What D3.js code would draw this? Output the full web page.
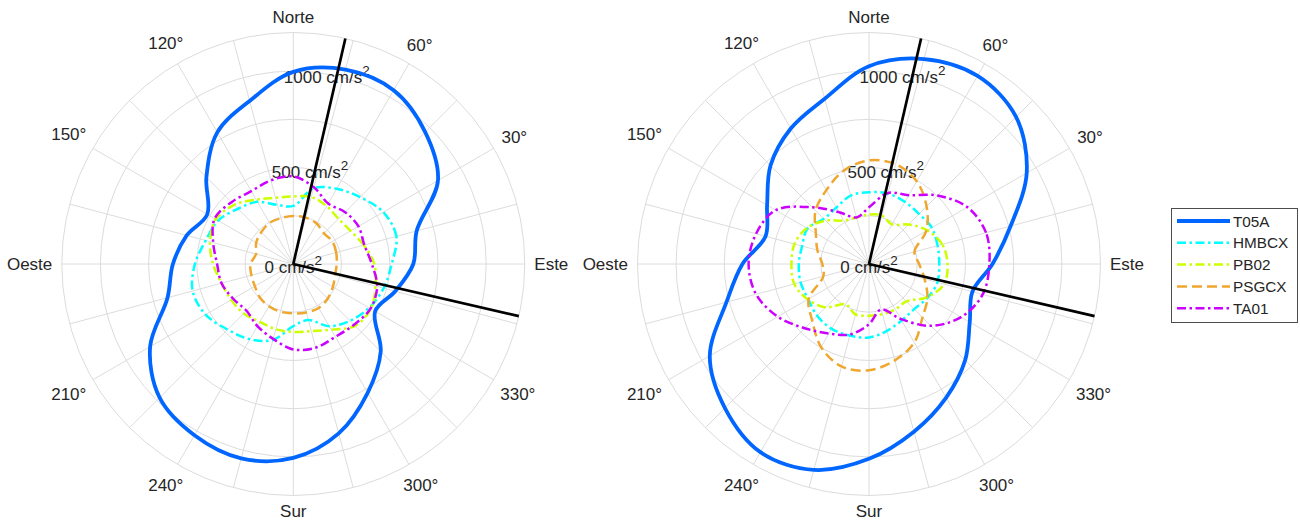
<!DOCTYPE html>
<html><head><meta charset="utf-8">
<script src="https://cdn.jsdelivr.net/npm/d3@7"></script>
<style>
body{margin:0;background:#fff;}
svg{display:block;font-family:"Liberation Sans",Arial,Helvetica,sans-serif;}
</style>
</head><body>
<svg id="c" width="1300" height="525"></svg>
<script>
// ---- data ----
const angles = [0,15,30,45,60,75,90,105,120,135,150,165,180,195,210,225,240,255,270,285,300,315,330,345];
const thetaLabelAngles = [0,30,60,90,120,150,180,210,240,270,300,330];
const thetaLabels = ["Este","30°","60°","Norte","120°","150°","Oeste","210°","240°","Sur","300°","330°"];
const rTicks = [250,500,750,1000];
const rLabelTicks = [0,500,1000];
const rMax = 1200;
const refLineAngles = [77,347];
const seriesNames = ["T05A","HMBCX","PB02","PSGCX","TA01"];

const leftT05A  = [622,662,866,967,1040,1043,996,875,788,637,515,572,624,675,857,980,1025,1043,1005,909,771,641,490,547];
const leftHMBCX = [510,553,538,490,450,407,301,317,372,405,450,470,510,540,525,481,450,407,322,301,372,416,454,485];
const leftPB02  = [420,378,343,331,346,360,350,355,386,433,464,447,416,385,372,363,346,350,352,360,393,453,464,441];
const leftPSGCX = [225,230,234,225,242,249,249,246,246,234,222,200,222,225,230,245,253,256,256,260,263,253,237,224];
const leftTA01  = [407,381,390,380,362,412,454,449,436,453,471,430,395,385,360,343,372,402,443,449,436,445,462,450];

const rightT05A  = [640,760,944,1078,1126,1100,1025,887,811,722,610,555,656,765,953,1056,1126,1105,1010,900,800,705,603,555];
const rightHMBCX = [364,368,376,367,372,378,372,367,338,331,368,359,364,367,364,380,388,384,381,359,338,331,350,367];
const rightPB02  = [407,393,349,290,237,260,256,250,260,318,372,400,402,401,367,318,242,271,268,269,272,274,346,403];
const rightPSGCX = [260,244,343,422,495,535,537,502,442,392,318,277,242,245,361,416,497,550,551,517,470,392,350,298];
const rightTA01  = [624,628,589,502,412,381,294,250,310,416,558,606,624,606,546,471,416,378,312,244,329,453,551,610];

// ---- styles ----
const styles = {
  T05A:  {color:"#0066ff", width:3.8, dash:null},
  HMBCX: {color:"#00ffff", width:2.5, dash:"9,3.5,2.5,3.5"},
  PB02:  {color:"#ccff00", width:2.5, dash:"9,3.5,2.5,3.5"},
  PSGCX: {color:"#efa730", width:2.5, dash:"10,5"},
  TA01:  {color:"#cc00ff", width:2.5, dash:"9,3.5,2.5,3.5"}
};
const textColor = "#262626";
const gridColor = "#dcdcdc";

const R = 231.5;
const rScale = d3.scaleLinear().domain([0, rMax]).range([0, R]);
const toRad = d => d * Math.PI / 180;
const svg = d3.select("#c");

const panels = [
  {cx:293.3, cy:264, series:[leftT05A,leftHMBCX,leftPB02,leftPSGCX,leftTA01]},
  {cx:869, cy:264, series:[rightT05A,rightHMBCX,rightPB02,rightPSGCX,rightTA01]}
];

const radial = d3.lineRadial()
  .angle(d => toRad(90 - d[0]))
  .radius(d => rScale(d[1]))
  .curve(d3.curveCatmullRomClosed.alpha(0.5));

panels.forEach(p => {
  const g = svg.append("g").attr("transform", `translate(${p.cx},${p.cy})`);

  // spokes
  g.selectAll("line.spoke").data(angles).join("line")
    .attr("class","spoke")
    .attr("x1",0).attr("y1",0)
    .attr("x2", d => rScale(rMax) * Math.cos(toRad(d)))
    .attr("y2", d => -rScale(rMax) * Math.sin(toRad(d)))
    .attr("stroke", gridColor).attr("stroke-width", 1);

  // rings
  g.selectAll("circle.ring").data(rTicks.concat([rMax])).join("circle")
    .attr("class","ring")
    .attr("r", d => rScale(d))
    .attr("fill","none").attr("stroke", gridColor).attr("stroke-width", 1);

  // r tick labels at 80 deg
  rLabelTicks.forEach(v => {
    const rr = rScale(v);
    const t = g.append("text")
      .attr("x", rr * Math.cos(toRad(80)))
      .attr("y", -rr * Math.sin(toRad(80)) + 9)
      .attr("text-anchor","middle")
      .attr("font-size", 17)
      .attr("fill", textColor);
    t.append("tspan").text(v + " cm/s");
    t.append("tspan").text("2").attr("font-size", 13.5).attr("dy", -8);
  });

  // theta labels
  thetaLabelAngles.forEach((a, i) => {
    const t = g.append("text").text(thetaLabels[i])
      .attr("font-size", 17).attr("fill", textColor).attr("text-anchor","middle");
    const w = t.node().getComputedTextLength();
    const c = Math.cos(toRad(a)), s = Math.sin(toRad(a));
    const rr = R + 9.5 + Math.abs(c) * w / 2 + Math.abs(s) * 6.1;
    t.attr("x", rr * c).attr("y", -rr * s + 6.1);
  });

  // series
  p.series.forEach((vals, k) => {
    const st = styles[seriesNames[k]];
    const pts = angles.map((a, j) => [a, vals[j]]);
    g.append("path").attr("d", radial(pts))
      .attr("fill","none").attr("stroke", st.color)
      .attr("stroke-width", st.width)
      .attr("stroke-dasharray", st.dash)
      .attr("stroke-linejoin","round");
  });

  // reference lines
  g.selectAll("line.ref").data(refLineAngles).join("line")
    .attr("class","ref")
    .attr("x1",0).attr("y1",0)
    .attr("x2", d => rScale(rMax) * Math.cos(toRad(d)))
    .attr("y2", d => -rScale(rMax) * Math.sin(toRad(d)))
    .attr("stroke","#000").attr("stroke-width", 2.7);
});

// legend
const lg = svg.append("g");
lg.append("rect").attr("x",1171.5).attr("y",208.5).attr("width",126).attr("height",114)
  .attr("fill","#fff").attr("stroke","#4d4d4d").attr("stroke-width",1);
seriesNames.forEach((n, i) => {
  const st = styles[n];
  const y = 221 + i * 21.8;
  lg.append("line").attr("x1",1177).attr("x2",1230).attr("y1",y).attr("y2",y)
    .attr("stroke", st.color).attr("stroke-width", st.width).attr("stroke-dasharray", st.dash);
  lg.append("text").attr("x",1233).attr("y", y + 5.5).text(n)
    .attr("font-size", 15.3).attr("fill", textColor);
});
</script>
</body></html>
